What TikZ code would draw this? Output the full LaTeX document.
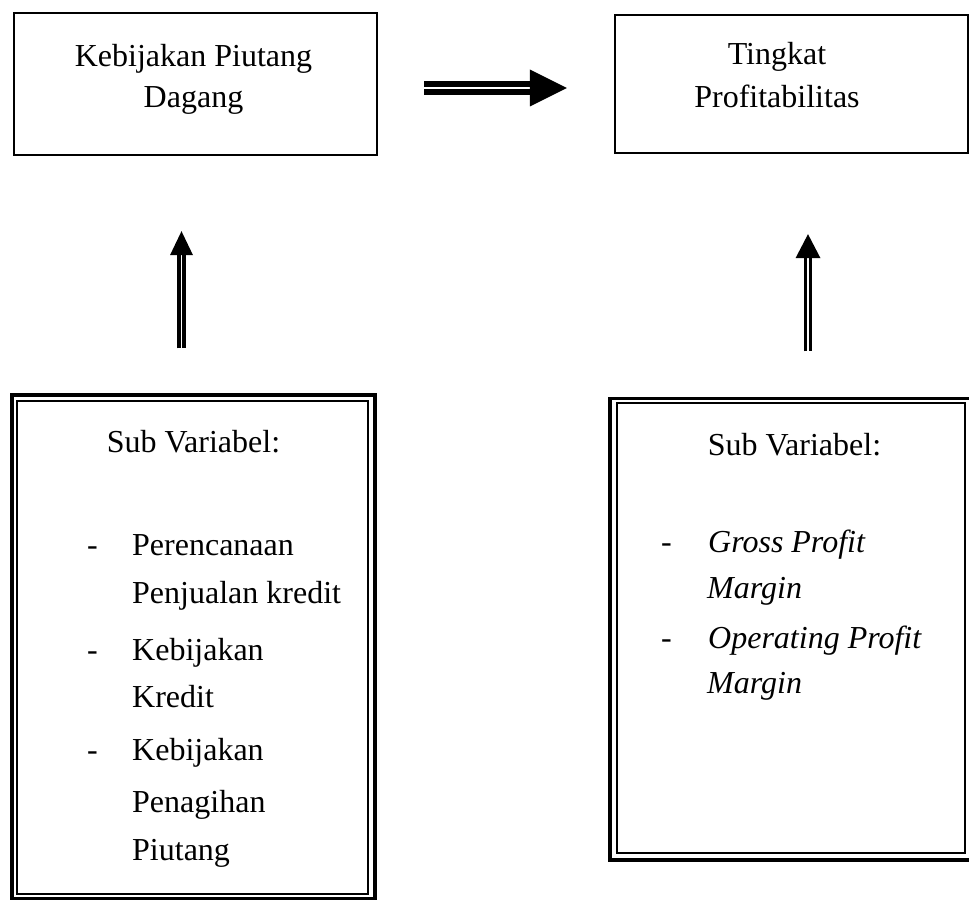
\documentclass[tikz,border=0pt]{standalone}
\usepackage{fontspec}
\setmainfont{Liberation Serif}
\begin{document}
\begin{tikzpicture}[x=1pt,y=-1pt,
  box/.style={draw, rectangle, line width=2.4pt, inner sep=0pt},
  outerbox/.style={draw, rectangle, line width=3.4pt, inner sep=0pt},
  innerbox/.style={draw, rectangle, line width=2pt, inner sep=0pt},
  txt/.style={anchor=base, inner sep=0pt, font=\fontsize{32}{38}\selectfont},
  itxt/.style={txt, anchor=base west, font=\fontsize{32}{38}\selectfont\itshape},
  ltxt/.style={txt, anchor=base west},
  hshaft/.style={draw, line width=5.4pt, double=white, double distance=2.4pt},
  vshaft/.style={draw, line width=3.6pt, double=white, double distance=1.4pt},
  head/.style={fill=black}
]
\useasboundingbox (0,0) rectangle (969,901);

% top boxes
\node[box, minimum width=363pt, minimum height=142pt] (kpd) at (195.5,84) {};
\node[box, minimum width=353pt, minimum height=138pt] (tp) at (791.5,84) {};

% bottom double-bordered boxes
\node[outerbox, minimum width=363pt, minimum height=503.5pt] (slb) at (193.5,646.75) {};
\node[innerbox, minimum width=351pt, minimum height=493pt] (slbi) at (192.5,647.5) {};
\node[outerbox, minimum width=361pt, minimum height=461.5pt] (srb) at (790.5,629.25) {};
\node[innerbox, minimum width=348pt, minimum height=450pt] (srbi) at (791,628) {};

% top texts
\node[txt] (t1a) at (193.5,67) {Kebijakan Piutang};
\node[txt] (t1b) at (193.5,108) {Dagang};
\node[txt] (t2a) at (777,65) {Tingkat};
\node[txt] (t2b) at (777,108) {Profitabilitas};

% sub variable headings
\node[txt] (t3) at (193.5,452) {Sub Variabel:};
\node[txt] (t4) at (794.5,455) {Sub Variabel:};

% left list
\node[ltxt] (ld1) at (87,555) {-};
\node[ltxt] (l1a) at (132,555) {Perencanaan};
\node[ltxt] (l1b) at (132,603) {Penjualan kredit};
\node[ltxt] (ld2) at (87,660) {-};
\node[ltxt] (l2a) at (132,660) {Kebijakan};
\node[ltxt] (l2b) at (132,707) {Kredit};
\node[ltxt] (ld3) at (87,760) {-};
\node[ltxt] (l3a) at (132,760) {Kebijakan};
\node[ltxt] (l3b) at (132,812) {Penagihan};
\node[ltxt] (l3c) at (132,860) {Piutang};

% right list
\node[ltxt] (rd1) at (661,552) {-};
\node[itxt] (r1a) at (708,552) {Gross Profit};
\node[itxt] (r1b) at (707,598) {Margin};
\node[ltxt] (rd2) at (661,648) {-};
\node[itxt] (r2a) at (708,648) {Operating Profit};
\node[itxt] (r2b) at (707,693) {Margin};

% horizontal arrow
\coordinate (hA) at ([shift={(46pt,-4pt)}]kpd.east);
\coordinate (hB) at ([shift={(-47pt,-4pt)}]tp.west);
\draw[hshaft] (hA) -- ([xshift=-35pt]hB);
\fill[head] (hB) -- ([shift={(-37pt,18.5pt)}]hB) -- ([shift={(-37pt,-18.5pt)}]hB) -- cycle;

% left vertical arrow
\coordinate (vA) at ([shift={(-12pt,45pt)}]slb.north);
\coordinate (vB) at ([shift={(-14pt,-75pt)}]kpd.south);
\draw[vshaft] (vA) -- ([yshift=-22pt]vB);
\fill[head] (vB) -- ([shift={(-11.5pt,-24pt)}]vB) -- ([shift={(11.5pt,-24pt)}]vB) -- cycle;

% right vertical arrow
\coordinate (wA) at ([shift={(17.5pt,45.5pt)}]srb.north);
\coordinate (wB) at ([shift={(16.5pt,-80pt)}]tp.south);
\draw[vshaft] (wA) -- ([yshift=-22pt]wB);
\fill[head] (wB) -- ([shift={(-12.5pt,-24pt)}]wB) -- ([shift={(12.5pt,-24pt)}]wB) -- cycle;
\end{tikzpicture}
\end{document}
